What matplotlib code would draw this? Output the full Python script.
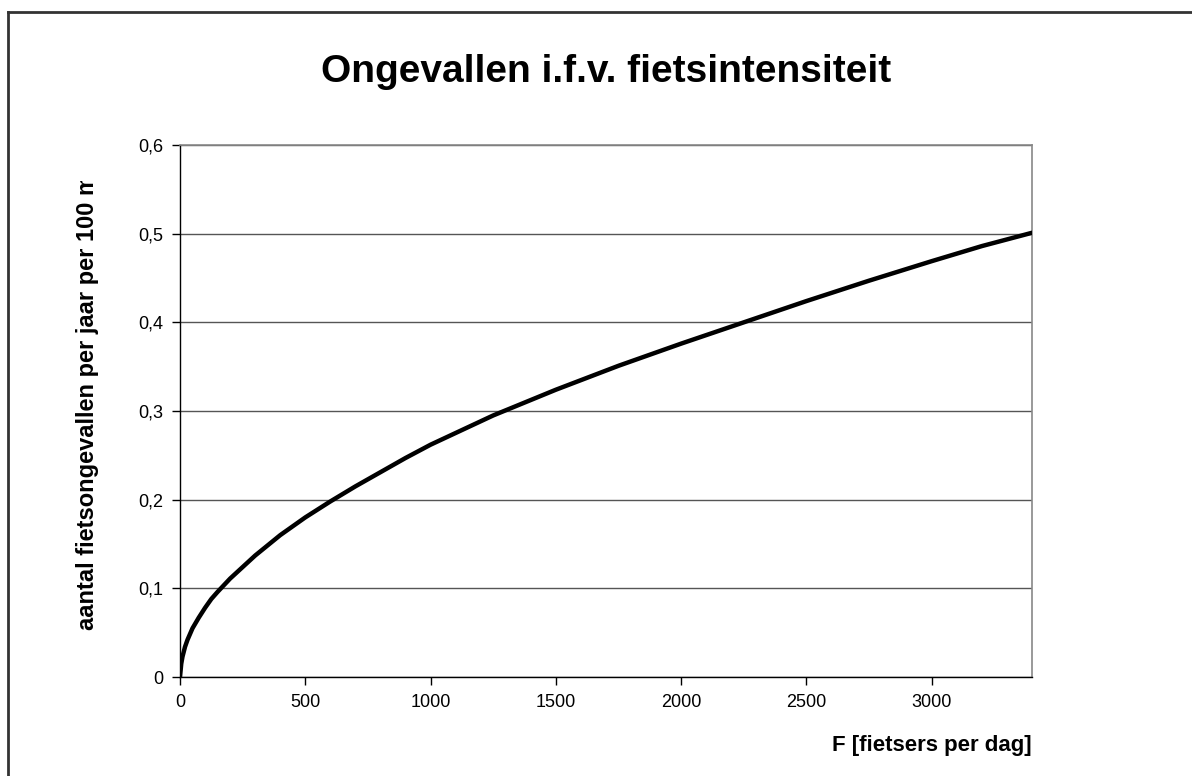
import matplotlib
matplotlib.use("Agg")
import matplotlib.pyplot as plt
from matplotlib.lines import Line2D
from matplotlib.ticker import FuncFormatter
from matplotlib.transforms import Bbox

# fietsers per dag -> ongevallen per jaar per 100 m
fietsers = [0, 5, 10, 20, 30, 50, 75, 100, 125, 150, 200, 250, 300, 400, 500,
            600, 700, 800, 900, 1000, 1250, 1500, 1750, 2000, 2250, 2500,
            2750, 3000, 3200, 3400]
ongevallen = [0.0, 0.015, 0.023, 0.034, 0.042, 0.055, 0.067, 0.078, 0.088,
              0.096, 0.111, 0.124, 0.137, 0.160, 0.180, 0.198, 0.215, 0.231,
              0.247, 0.262, 0.295, 0.324, 0.351, 0.376, 0.400, 0.424, 0.447,
              0.469, 0.486, 0.501]

x_ticks = [0, 500, 1000, 1500, 2000, 2500, 3000]
y_ticks = [0, 0.1, 0.2, 0.3, 0.4, 0.5, 0.6]

plt.rcParams['font.family'] = ['Liberation Sans', 'DejaVu Sans']

W, H = 1192, 776
fig = plt.figure(figsize=(W / 100, H / 100), dpi=100)
fig.patch.set_facecolor('white')

# plot area in pixels
left, right, top, bottom = 180, 1032, 145, 677
ax = fig.add_axes([left / W, 1 - bottom / H, (right - left) / W, (bottom - top) / H])

ax.plot(fietsers, ongevallen, color='black', linewidth=3.2, solid_capstyle='round',
        solid_joinstyle='round', zorder=3)

ax.set_xlim(0, 3400)
ax.set_ylim(0, 0.6)
ax.set_xticks(x_ticks)
ax.set_yticks(y_ticks)
ax.yaxis.set_major_formatter(FuncFormatter(lambda v, p: '0' if v == 0 else f'{v:.1f}'.replace('.', ',')))
ax.tick_params(axis='both', direction='out', length=6, width=1, colors='black',
               labelsize=13, pad=6)

ax.grid(axis='y', color='#555555', linewidth=1)
ax.set_axisbelow(True)
for s in ['top', 'right']:
    ax.spines[s].set_color('#888888')
    ax.spines[s].set_linewidth(1.2)
for s in ['left', 'bottom']:
    ax.spines[s].set_color('black')
    ax.spines[s].set_linewidth(1)

fig.text(0.5 * (left + right) / W, 1 - 72 / H, 'Ongevallen i.f.v. fietsintensiteit',
         ha='center', va='center', fontsize=28, fontweight='bold')
fig.text(right / W, 1 - 745 / H, 'F [fietsers per dag]',
         ha='right', va='center', fontsize=16, fontweight='bold')
ylab = fig.text(88 / W, 1 - 630 / H, 'aantal fietsongevallen per jaar per 100 m',
                ha='center', va='bottom', rotation=90, fontsize=17, fontweight='bold')
# the label is cut off at the top in the original
ylab.set_clip_box(Bbox.from_extents(0, 0, W, H - 181))
ylab.set_clip_on(True)

# chart border (only top and left visible)
fig.add_artist(Line2D([8 / W, 1], [1 - 12 / H, 1 - 12 / H], color='#333333', linewidth=2))
fig.add_artist(Line2D([8 / W, 8 / W], [0, 1 - 12 / H], color='#333333', linewidth=2))

fig.savefig('out.png', dpi=100)
